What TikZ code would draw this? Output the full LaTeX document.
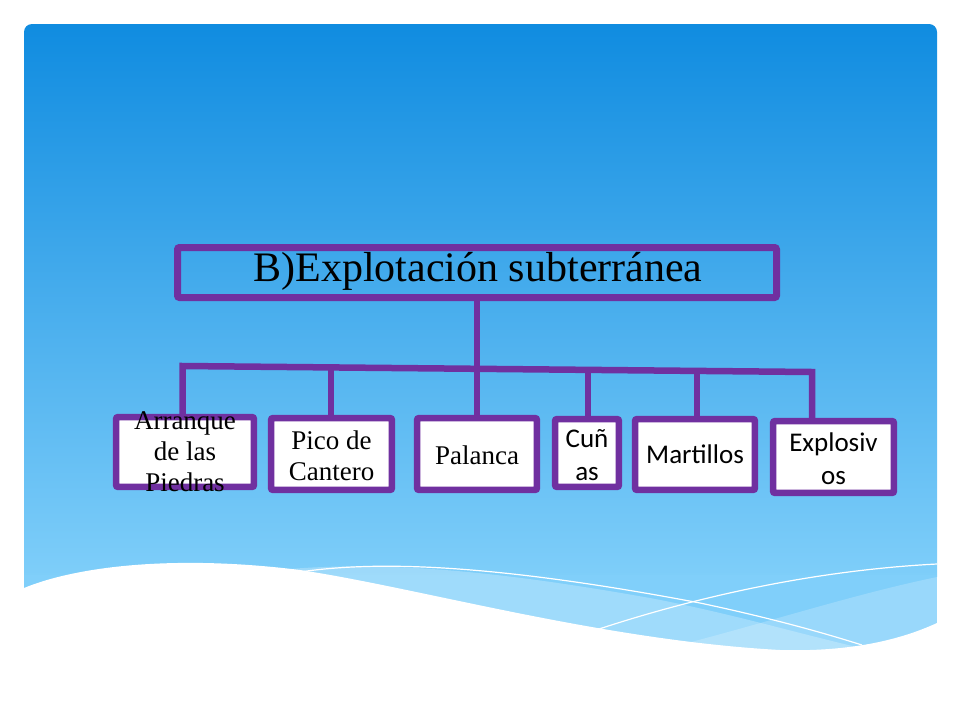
\documentclass[tikz,border=0pt]{standalone}
\usepackage{fontspec}
\setmainfont{Liberation Serif}
\newfontfamily\calibri{Carlito}
\definecolor{purp}{RGB}{112,48,160}
\definecolor{bgtop}{RGB}{16,140,224}
\definecolor{bgbot}{RGB}{128,207,250}
\begin{document}
\begin{tikzpicture}[x=1pt,y=-1pt,
  box/.style={draw=purp,line width=6.5pt,fill=white,rounded corners=2pt,inner sep=0pt},
  conn/.style={draw=purp,line width=6.5pt},
  ser/.style={font=\fontsize{27}{31}\selectfont,align=center,inner sep=0pt},
  san/.style={font=\calibri\fontsize{27}{33}\selectfont,align=center,inner sep=0pt},
  wline/.style={draw=white,line width=1.2pt}]
\useasboundingbox (0,0) rectangle (960,720);
% background
\fill[bgbot] (24,570) rectangle (937,690);
\shade[top color=bgtop,bottom color=bgbot,rounded corners=8pt] (24,24) rectangle (937,585);
\fill[bgbot] (24,575) rectangle (937,590);
% lighter bands
\fill[white,opacity=0.25] (290,569) .. controls (400,560) and (520,575) .. (650,598)
   .. controls (740,615) and (820,640) .. (880,652) -- (880,700) -- (290,700) -- cycle;
\fill[white,opacity=0.2] (937,577) .. controls (850,595) and (760,625) .. (660,650)
   -- (660,700) -- (937,700) -- cycle;
% white lines
\draw[wline] (300,572) .. controls (380,560) and (500,565) .. (700,603)
   .. controls (780,620) and (830,635) .. (862,645);
\draw[wline] (590,632) .. controls (700,595) and (820,570) .. (937,564);
% white wave
\fill[white] (0,590) -- (24,588) .. controls (80,565) and (180,555) .. (300,570)
   .. controls (420,588) and (600,640) .. (780,650)
   .. controls (850,652) and (900,640) .. (937,623) -- (960,623) -- (960,720) -- (0,720) -- cycle;
% main box
\node[draw=purp,line width=7pt,rounded corners=2pt,minimum width=599pt,minimum height=50pt,inner sep=0pt] (main) at (477,272.5) {};
\node[font=\fontsize{42}{48}\selectfont,anchor=base,inner sep=0pt] (title) at (478,281) {B)Explotación subterránea};
% bus coordinates
\coordinate (b1) at (182.5,366);
\coordinate (b2) at (331,367.4);
\coordinate (b3) at (477,368.8);
\coordinate (b4) at (588,369.9);
\coordinate (b5) at (697,370.9);
\coordinate (b6) at (812,372);
% child boxes (empty, for geometry)
\path
 (185,452) node[minimum width=137.5pt,minimum height=69.5pt,inner sep=0pt] (c1) {}
 (331.5,454) node[minimum width=120.5pt,minimum height=71.5pt,inner sep=0pt] (c2) {}
 (477,454) node[minimum width=119.5pt,minimum height=71.5pt,inner sep=0pt] (c3) {}
 (587,453) node[minimum width=63.5pt,minimum height=67.5pt,inner sep=0pt] (c4) {}
 (695,454.5) node[minimum width=119.5pt,minimum height=70.5pt,inner sep=0pt] (c5) {}
 (833.5,457) node[minimum width=120.5pt,minimum height=71.5pt,inner sep=0pt] (c6) {};
% connectors
\draw[conn] (main.south) -- (b3) -- (b3 |- c3.north);
\draw[conn,line join=miter] (b1 |- c1.north) -- (b1) -- (b6) -- (b6 |- c6.north);
\draw[conn] (b2) -- (b2 |- c2.north);
\draw[conn] (b4) -- (b4 |- c4.north);
\draw[conn] (b5) -- (b5 |- c5.north);
% boxes drawn
\foreach \n in {c1,c2,c3,c4,c5,c6}{
  \draw[purp,line width=6.5pt,fill=white,rounded corners=2pt] (\n.north west) rectangle (\n.south east);
}
% texts
\node[ser] (t1) at (185,452) {Arranque\\de las\\Piedras};
\node[ser] (t2) at (331.5,456) {Pico de\\Cantero};
\node[ser] (t3) at (477,455) {Palanca};
\node[san] (t4) at (587,455) {Cuñ\\as};
\node[san] (t5) at (695,454.5) {Martillos};
\node[san] (t6) at (833.5,459) {Explosiv\\os};
\end{tikzpicture}
\end{document}
